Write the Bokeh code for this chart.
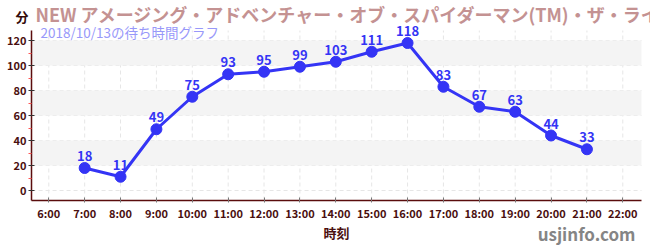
from bokeh.plotting import figure
from bokeh.models import Label, ColumnDataSource, FixedTicker, Range1d, BoxAnnotation
from bokeh.embed import file_html
from bokeh.resources import INLINE
from bokeh.core.properties import value

hours = [7, 8, 9, 10, 11, 12, 13, 14, 15, 16, 17, 18, 19, 20, 21]
waits = [18, 11, 49, 75, 93, 95, 99, 103, 111, 118, 83, 67, 63, 44, 33]
tick_hours = list(range(6, 23))
tick_labels = [f"{h}:00" for h in tick_hours]
y_ticks = [0, 20, 40, 60, 80, 100, 120]
y_minor = [10, 30, 50, 70, 90, 110]
bands = [(20, 40), (60, 80), (100, 120)]

title_text = "NEW アメージング・アドベンチャー・オブ・スパイダーマン(TM)・ザ・ライド"
subtitle_text = "2018/10/13の待ち時間グラフ"
unit_text = "分"
xlabel_text = "時刻"
site_text = "usjinfo.com"

FONT = "Noto Sans CJK JP"
AXIS_COL = "#5a0d0d"
LABEL_COL = "#4a0f0f"
BLUE = "#3434f5"
W, H = 650, 250

# axis extent (data units)
X0, X1 = 5.52, 22.52
Y0, Y1 = -8, 128

p = figure(width=W, height=H, output_backend="svg", toolbar_location=None,
           x_range=Range1d(4.654, 22.772), y_range=Range1d(-48, 152),
           min_border=0)
p.outline_line_color = None
p.background_fill_color = "white"
p.border_fill_color = "white"
p.xgrid.visible = False
p.ygrid.visible = False

for b0, b1 in bands:
    p.add_layout(BoxAnnotation(bottom=b0, top=b1, left=X0, right=X1, fill_color="#f4f4f4",
                               fill_alpha=1.0, line_color=None, level="underlay"))

# dashed grid lines, spanning the axis extent
p.segment(x0=tick_hours, x1=tick_hours, y0=[Y0] * len(tick_hours), y1=[Y1] * len(tick_hours),
          line_color="#e6e6e6", line_dash="4 3", line_width=1, level="underlay")
p.segment(x0=[X0] * len(y_ticks), x1=[X1] * len(y_ticks), y0=y_ticks, y1=y_ticks,
          line_color="#e6e6e6", line_dash="4 3", line_width=1, level="underlay")

xa = p.xaxis[0]
ya = p.yaxis[0]
xa.fixed_location = Y0
ya.fixed_location = X0
xa.bounds = (X0, X1)
ya.bounds = (Y0, Y1)

xa.ticker = FixedTicker(ticks=tick_hours)
xa.major_label_overrides = {h: lab for h, lab in zip(tick_hours, tick_labels)}
xa.major_tick_in = 3
xa.major_tick_out = 2
xa.major_tick_line_color = "#777777"
xa.minor_tick_line_color = None
xa.major_label_standoff = 2

ya.ticker = FixedTicker(ticks=y_ticks, minor_ticks=y_minor)
ya.major_tick_in = 3
ya.major_tick_out = 3
ya.major_tick_line_color = "#333333"
ya.minor_tick_in = 0
ya.minor_tick_out = 3
ya.minor_tick_line_color = "#ff5555"
ya.major_label_standoff = 2

for ax in (xa, ya):
    ax.axis_line_color = AXIS_COL
    ax.axis_line_width = 1.5
    ax.major_label_text_font = FONT
    ax.major_label_text_font_style = "bold"
    ax.major_label_text_font_size = "11px"
    ax.major_label_text_color = LABEL_COL

src = ColumnDataSource(dict(x=hours, y=waits, t=[str(v) for v in waits]))
p.line("x", "y", source=src, line_color=BLUE, line_width=3)
p.scatter("x", "y", source=src, size=11, fill_color=BLUE, line_color=BLUE)
p.text("x", "y", text="t", source=src, text_font=value(FONT), text_font_style="bold",
       text_font_size="13px", text_color=BLUE, text_align="center", text_baseline="bottom",
       y_offset=-7)

def lab(cx, cy, text, size, color, align="left", style="bold"):
    p.add_layout(Label(x=cx, y=H - cy, x_units="screen", y_units="screen",
                       text=text, text_font=FONT, text_font_size=size, text_color=color,
                       text_font_style=style, text_align=align, text_baseline="middle"))

lab(15, 16, unit_text, "13px", "#330a0a")
lab(35, 13, title_text, "18px", "#c49292")
lab(40, 31, subtitle_text, "13.5px", "#9898fa", style="normal")
lab(336, 232, xlabel_text, "13px", LABEL_COL, align="center")
lab(635, 233, site_text, "17px", "#858585", align="right")

open("out.html", "w").write(file_html(p, INLINE))
